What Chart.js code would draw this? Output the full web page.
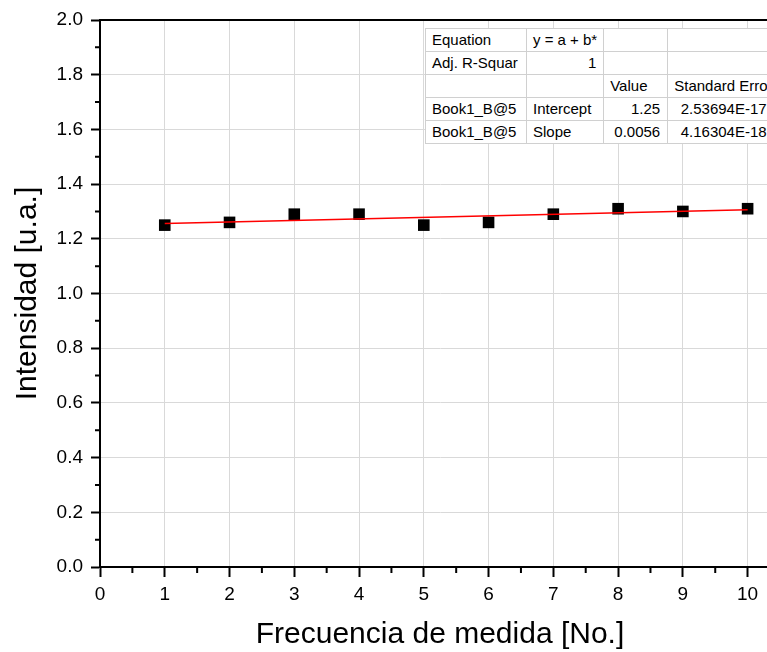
<!DOCTYPE html>
<html>
<head>
<meta charset="utf-8">
<script src="https://cdn.jsdelivr.net/npm/chart.js@4/dist/chart.umd.min.js"></script>
<style>
  html, body { margin: 0; padding: 0; background: #fff; overflow: hidden; }
  #wrap { position: relative; width: 790px; height: 657px; }
  #fitTable {
    position: absolute; left: 425px; top: 28px;
    border-collapse: collapse; background: #fff;
    font-family: "Liberation Sans", Arial, sans-serif; font-size: 15px; color: #000;
    border: 1px solid #7f7f7f; table-layout: fixed;
  }
  #fitTable td {
    border: 1px solid #d0d0d0; height: 22px; padding: 0 6px;
    white-space: nowrap; overflow: hidden; line-height: 22px;
  }
  #fitTable td.r { text-align: right; padding-right: 7px; }
</style>
</head>
<body>
<div id="wrap">
  <canvas id="chart" width="790" height="657"></canvas>
  <table id="fitTable">
    <colgroup><col style="width:101px"><col style="width:75px"><col style="width:64px"><col style="width:101px"></colgroup>
    <tbody id="fitBody"></tbody>
  </table>
</div>
<script>
// measured points
const measureNo = [1, 2, 3, 4, 5, 6, 7, 8, 9, 10];
const intensity = [1.25, 1.26, 1.29, 1.29, 1.25, 1.26, 1.29, 1.31, 1.30, 1.31];

// linear fit line ends (y = a + b*x)
const fitX = [1, 10];
const fitY = [1.2556, 1.306];

// axis ticks
const xTicks = [0, 1, 2, 3, 4, 5, 6, 7, 8, 9, 10];

// fit result table, as shown
const tableRows = [
  ["Equation", "y = a + b*", "", ""],
  ["Adj. R-Squar", "1", "", ""],
  ["", "", "Value", "Standard Erro"],
  ["Book1_B@5", "Intercept", "1.25", "2.53694E-17"],
  ["Book1_B@5", "Slope", "0.0056", "4.16304E-18"]
];

const fontFam = "'Liberation Sans', Arial, sans-serif";

function buildTable() {
  const body = document.getElementById("fitBody");
  body.innerHTML = "";
  tableRows.forEach((row, ri) => {
    let html = "<tr>";
    row.forEach((cell, ci) => {
      const isNum = cell !== "" && !isNaN(parseFloat(cell)) && ci > 0;
      html += `<td class="${isNum ? "r" : ""}">${cell}</td>`;
    });
    body.innerHTML += html + "</tr>";
  });
}
buildTable();

// minor ticks + top frame
const framePlugin = {
  id: "frame",
  afterDraw(chart) {
    const ctx = chart.ctx;
    const area = chart.chartArea;
    const xs = chart.scales.x, ys = chart.scales.y;
    ctx.save();
    ctx.strokeStyle = "#000";
    ctx.lineWidth = 2;
    ctx.beginPath();
    ctx.moveTo(area.left - 1, area.top);
    ctx.lineTo(area.right, area.top);
    ctx.moveTo(area.right, area.top);
    ctx.lineTo(area.right, area.bottom);
    for (let v = 0.5; v < xs.max; v += 1) {
      const px = xs.getPixelForValue(v);
      ctx.moveTo(px, area.bottom);
      ctx.lineTo(px, area.bottom + 6);
    }
    for (let k = 1; k < 20; k += 2) {
      const py = ys.getPixelForValue(k / 10);
      ctx.moveTo(area.left, py);
      ctx.lineTo(area.left - 5, py);
    }
    ctx.stroke();
    ctx.restore();
  }
};

new Chart(document.getElementById("chart"), {
  data: {
    datasets: [
      {
        type: "line",
        data: fitX.map((x, i) => ({ x: x, y: fitY[i] })),
        borderColor: "#ff0000",
        borderWidth: 1.5,
        pointRadius: 0,
        order: 0
      },
      {
        type: "scatter",
        data: measureNo.map((x, i) => ({ x: x, y: intensity[i] })),
        pointStyle: "rect",
        pointRadius: 8.2,
        backgroundColor: "#000",
        borderColor: "#000",
        borderWidth: 0,
        order: 1
      }
    ]
  },
  options: {
    responsive: false,
    animation: false,
    layout: { padding: { top: 20, right: 10, left: 0, bottom: 0 } },
    plugins: { legend: { display: false }, tooltip: { enabled: false } },
    scales: {
      x: {
        type: "linear",
        min: 0,
        max: 10.5,
        afterBuildTicks: s => { s.ticks = xTicks.map(v => ({ value: v })); },
        afterFit: s => { s.height = 90; },
        ticks: { autoSkip: false, color: "#000", font: { family: fontFam, size: 19 }, padding: 6, maxRotation: 0 },
        grid: { color: "#d9d9d9", lineWidth: 1, tickColor: "#000", tickWidth: 2, tickLength: 10 },
        border: { color: "#000", width: 2 },
        title: { display: true, text: "Frecuencia de medida [No.]", color: "#000", font: { family: fontFam, size: 30 }, padding: { top: 12 } }
      },
      y: {
        min: 0,
        max: 2,
        afterFit: s => { s.width = 100; },
        ticks: { stepSize: 0.2, color: "#000", font: { family: fontFam, size: 19 }, padding: 8, callback: v => v.toFixed(1) },
        grid: { color: "#d9d9d9", lineWidth: 1, tickColor: "#000", tickWidth: 2, tickLength: 9 },
        border: { color: "#000", width: 2 },
        title: { display: true, text: "Intensidad [u.a.]", color: "#000", font: { family: fontFam, size: 30 }, padding: { top: 10 } }
      }
    }
  },
  plugins: [framePlugin]
});
</script>
</body>
</html>
